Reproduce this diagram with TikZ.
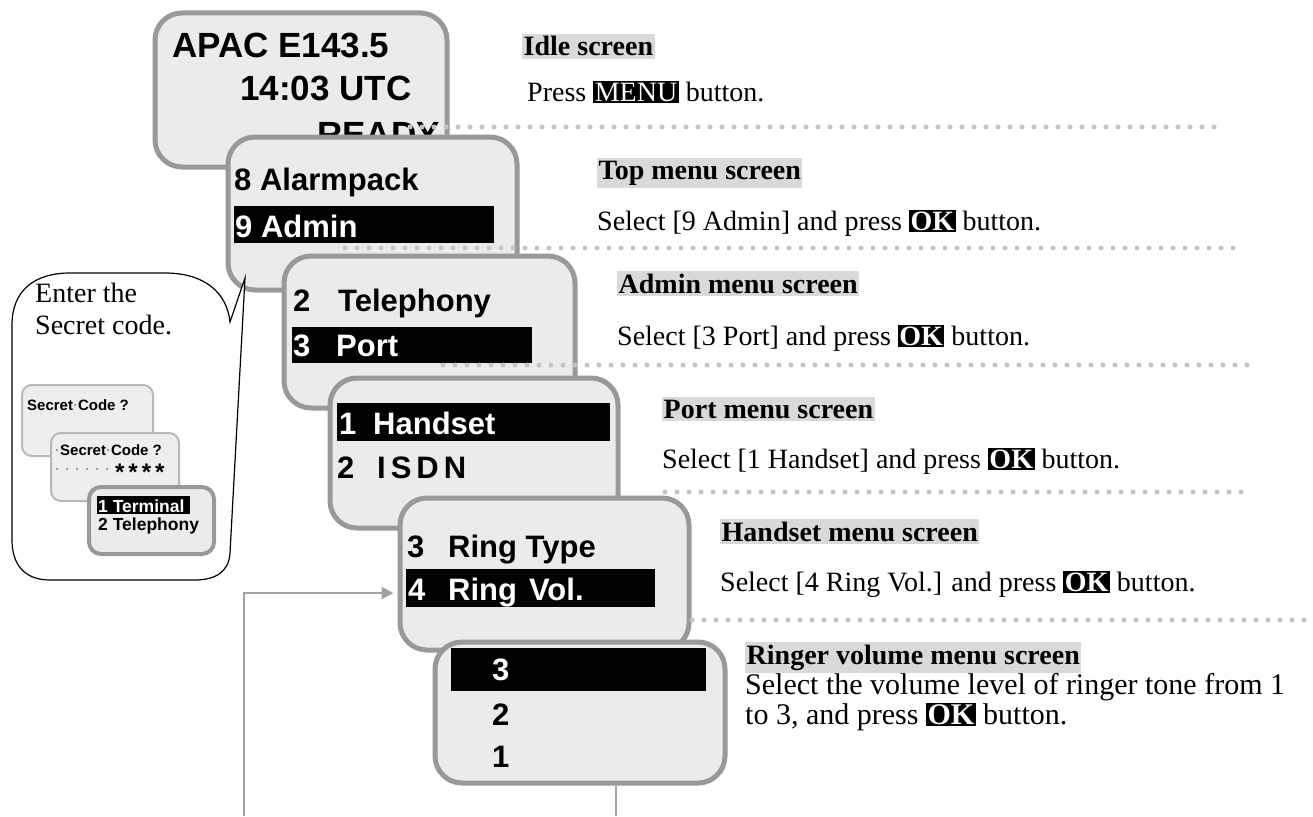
\documentclass[tikz,border=0pt]{standalone}
\usepackage{fontspec}
\setmainfont{Liberation Serif}
\newfontfamily\scrfam{Liberation Sans}
\usetikzlibrary{arrows.meta}
\definecolor{scrfill}{HTML}{EBEBEB}
\definecolor{scrline}{HTML}{999999}
\definecolor{minline}{HTML}{B8B8B8}
\definecolor{minfill}{HTML}{EEEEEE}
\definecolor{dotc}{HTML}{C4C4C4}
\definecolor{headbg}{HTML}{D9D9D9}
\definecolor{connc}{HTML}{A3A3A3}
\definecolor{markc}{HTML}{A0A0A0}
\newcommand\keyw[1]{{\setlength\fboxsep{1.5pt}\colorbox{black}{\color{white}#1}}}
\newcommand\okkey{\keyw{\textbf{OK}}}
\tikzset{
 screen/.style={draw=scrline, fill=scrfill, line width=5pt, rounded corners=27pt, inner sep=0pt, anchor=north west},
 barbox/.style={fill=black, inner sep=0pt, anchor=north west},
 st/.style={font=\scrfam\bfseries\fontsize{31}{36}\selectfont, inner sep=0pt, anchor=base west},
 stw/.style={st, text=white},
 big/.style={font=\scrfam\bfseries\fontsize{35}{40}\selectfont, inner sep=0pt, anchor=base west},
 head/.style={font=\bfseries\fontsize{28}{32}\selectfont, fill=headbg, inner xsep=1.5pt, inner ysep=3pt, anchor=base west},
 body/.style={font=\fontsize{28}{32}\selectfont, inner sep=0pt, anchor=base west},
 bodyl/.style={font=\fontsize{30}{34}\selectfont, inner sep=0pt, anchor=base west},
 dotline/.style={draw=dotc, line width=5pt, line cap=round, dash pattern=on 0pt off 12pt},
 conn/.style={draw=connc, line width=2pt},
 minisc/.style={draw=minline, fill=minfill, line width=2pt, rounded corners=10pt, inner sep=0pt, anchor=north west},
 minisc3/.style={draw=scrline, fill=scrfill, line width=4pt, rounded corners=12pt, inner sep=0pt, anchor=north west},
 mt/.style={font=\scrfam\bfseries\fontsize{15}{17}\selectfont, inner sep=0pt, anchor=base west},
 mt3/.style={font=\scrfam\bfseries\fontsize{17.5}{19}\selectfont, inner sep=0pt, anchor=base west},
 bubtext/.style={font=\fontsize{28}{32}\selectfont, inner sep=0pt, anchor=base west},
}
\begin{document}
\begin{tikzpicture}[x=1pt,y=-1pt]
\useasboundingbox[fill=white] (0,0) rectangle (1313,816);

% screen 1
\node[screen, minimum width=292pt, minimum height=154pt] (s1) at (152.5,10.5) {};
\node[big] (t11) at (172,57) {APAC E143.5};
\node[big] (t12) at (240,100) {14:03 UTC};
\node[big] (t13) at (317,146) {READY};

% screen 2
\node[screen, minimum width=289pt, minimum height=153pt] (s2) at (225.5,134.5) {};
\node[st] (t21) at (234,190) {8 Alarmpack};
\node[barbox, minimum width=260pt, minimum height=37pt] (bar2) at (234,206) {};
\node[stw] (t22) at (235,237) {9 Admin};

% speech bubble
\draw[fill=white, draw=black, line width=1.2pt] (230,322) -- (245,278) -- (230,553)
  .. controls (229,572) and (215,580) .. (195,580) -- (50,580)
  .. controls (25,580) and (12,565) .. (12,540) -- (12,325)
  .. controls (12,290) and (35,273) .. (70,273) -- (165,273)
  .. controls (205,273) and (227,293) .. (230,322) -- cycle;
\node[bubtext] (e1) at (35,302) {Enter the};
\node[bubtext] (e2) at (35,334) {Secret code.};

\node[minisc, minimum width=131pt, minimum height=71pt] (m1) at (21,384) {};
\node[mt] (m1t) at (27,410) {Secret{\color{markc}·}Code ?};
\node[minisc, minimum width=128pt, minimum height=68pt] (m2) at (50,432) {};
\node[mt] (m2t) at (55,455) {{\color{markc}·}Secret{\color{markc}·}Code ?};
\node[mt] (m2s) at (55,474) {{\color{markc}·\,\,·\,\,·\,\,·\,\,·\,\,·\,\,}\raisebox{-6pt}{\fontsize{24}{24}\selectfont *\,*\,*\,*}};
\node[minisc3, minimum width=125pt, minimum height=67pt] (m3) at (87,485) {};
\node[barbox, minimum width=93pt, minimum height=18pt] (m3bar) at (97,496) {};
\node[mt3, text=white] (m3a) at (98,512) {1 Terminal};
\node[mt3] (m3b) at (98,530) {2 Telephony};

% screen 3
\node[screen, minimum width=291pt, minimum height=152pt] (s3) at (281.5,253.5) {};
\node[st] (t31a) at (293,311) {2};
\node[st] (t31b) at (338,311) {Telephony};
\node[barbox, minimum width=240pt, minimum height=36pt] (bar3) at (292,327) {};
\node[stw] (t32a) at (293,356) {3};
\node[stw] (t32b) at (336,356) {Port};

% screen 4
\node[screen, minimum width=288pt, minimum height=150pt] (s4) at (327.5,375.5) {};
\node[barbox, minimum width=273pt, minimum height=38pt] (bar4) at (337,403) {};
\node[stw] (t41a) at (339,434) {1};
\node[stw] (t41b) at (373,434) {Handset};
\node[st] (t42a) at (337,478) {2};
\node[st] (t42b) at (377,478) {I\hspace{5pt}S\hspace{5pt}D\hspace{5pt}N};

% screen 5
\node[screen, minimum width=289pt, minimum height=152pt] (s5) at (397.5,495.5) {};
\node[st] (t51a) at (407,557) {3};
\node[st] (t51b) at (448,557) {Ring Type};
\node[barbox, minimum width=249pt, minimum height=38pt] (bar5) at (406,569) {};
\node[stw] (t52a) at (408,600) {4};
\node[stw] (t52b) at (448,600) {Ring\hspace{12pt}Vol.};

% screen 6
\node[screen, minimum width=290pt, minimum height=141pt] (s6) at (432.5,639.5) {};
\node[barbox, minimum width=255pt, minimum height=43pt] (bar6) at (451,648) {};
\node[stw] (t61) at (492,680) {3};
\node[st] (t62) at (492,725) {2};
\node[st] (t63) at (492,767) {1};

% dotted separators
\draw[dotline] (410,127) -- (1215,127);
\draw[dotline] (345,248) -- (1235,248);
\draw[dotline] (443,365) -- (1250,365);
\draw[dotline] (665,492) -- (1245,492);
\draw[dotline] (692,620) -- (1310,620);

% right-hand texts
\node[head] (h1) at (522,56) {Idle screen};
\node[body] (p1) at (527,101) {Press \keyw{MENU} button.};
\node[head] (h2) at (597,179) {Top menu screen};
\node[body] (p2) at (597,230) {Select [9 Admin] and press \okkey{} button.};
\node[head] (h3) at (617,293) {Admin menu screen};
\node[body] (p3) at (617,345) {Select [3 Port] and press \okkey{} button.};
\node[head] (h4) at (662,418) {Port menu screen};
\node[body] (p4) at (662,468) {Select [1 Handset] and press \okkey{} button.};
\node[head] (h5) at (720,541) {Handset menu screen};
\node[body] (p5) at (720,591) {Select [4 Ring Vol.] and press \okkey{} button.};
\node[head] (h6) at (745,664) {Ringer volume menu screen};
\node[bodyl] (p6a) at (745,694) {Select the volume level of ringer tone from 1};
\node[bodyl] (p6b) at (745,724) {to 3, and press \okkey{} button.};

% loop connector
\coordinate (b1) at (616,816);
\coordinate (b2) at (244,816);
\coordinate (a5) at (s5.west |- 0,593);
\draw[conn] (s6.south -| b1) -- (b1);
\draw[conn, -{Triangle[length=12pt,width=12pt]}, shorten >=4pt] (b2) |- (a5);
\end{tikzpicture}
\end{document}
